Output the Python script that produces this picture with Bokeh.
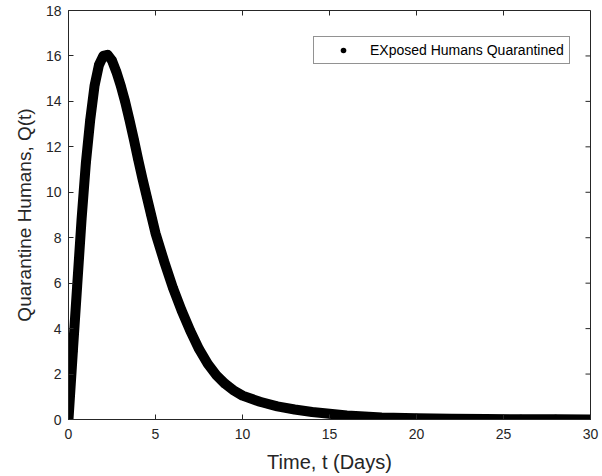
import math
from bokeh.plotting import figure
from bokeh.models import FixedTicker, Range1d, Legend, LegendItem, ColumnDataSource
from bokeh.embed import file_html
from bokeh.resources import INLINE

# Data
time_days = [0, 0.25, 0.5, 0.75, 1.0, 1.25, 1.5, 1.75, 2.0, 2.25, 2.5, 2.75, 3.0,
             3.25, 3.5, 3.75, 4.0, 4.25, 4.5, 4.75, 5.0, 5.5, 6.0, 6.5, 7.0, 7.5,
             8.0, 8.5, 9.0, 9.5, 10, 11, 12, 13, 14, 15, 16, 17, 18, 20, 22, 24,
             26, 28, 30]
quarantined = [0, 3.0, 5.9, 8.8, 11.3, 13.2, 14.7, 15.6, 16.0, 16.05, 15.8, 15.3, 14.7,
               14.0, 13.2, 12.35, 11.45, 10.6, 9.8, 9.0, 8.2, 6.95, 5.8, 4.8, 3.9, 3.1,
               2.45, 1.95, 1.57, 1.28, 1.05, 0.78, 0.58, 0.44, 0.33, 0.25, 0.18, 0.13,
               0.09, 0.05, 0.03, 0.02, 0.01, 0.01, 0.0]
x_ticks = [0, 5, 10, 15, 20, 25, 30]
y_ticks = [0, 2, 4, 6, 8, 10, 12, 14, 16, 18]
series_name = "EXposed Humans Quarantined"
x_title = "Time, t (Days)"
y_title = "Quarantine Humans, Q(t)"

AX = "#262626"
FONT = "Liberation Sans"
X_MIN, X_MAX = x_ticks[0], x_ticks[-1]
Y_MIN, Y_MAX = y_ticks[0], y_ticks[-1]

p = figure(width=602, height=476, output_backend="svg", toolbar_location=None,
           x_range=Range1d(X_MIN, X_MAX), y_range=Range1d(Y_MIN, Y_MAX),
           min_border_left=68, min_border_right=12, min_border_top=10, min_border_bottom=57)
p.background_fill_color = "white"
p.border_fill_color = "white"
p.outline_line_color = AX
p.outline_line_width = 1
p.xgrid.visible = False
p.ygrid.visible = False

src = ColumnDataSource(dict(t=time_days, q=quarantined))
p.line("t", "q", source=src, line_color="black", line_width=10,
       line_cap="round", line_join="round")
pts = p.scatter("t", "q", source=src, size=9, marker="circle",
                fill_color="black", line_color=None)

# inward ticks on the top and right sides of the box
p.ray(x=x_ticks, y=[Y_MAX] * len(x_ticks), length=5, length_units="screen",
      angle=-math.pi / 2, line_color=AX, line_width=1)
p.ray(x=[X_MAX] * len(y_ticks), y=y_ticks, length=5, length_units="screen",
      angle=math.pi, line_color=AX, line_width=1)

for ax in (p.xaxis[0], p.yaxis[0]):
    ax.axis_line_color = AX
    ax.major_tick_line_color = AX
    ax.major_tick_in = 5
    ax.major_tick_out = 0
    ax.minor_tick_line_color = None
    ax.major_label_text_font = FONT
    ax.major_label_text_font_size = "14px"
    ax.major_label_text_color = AX
    ax.axis_label_text_font = FONT
    ax.axis_label_text_font_style = "normal"
    ax.axis_label_text_color = AX

p.xaxis.ticker = FixedTicker(ticks=x_ticks)
p.yaxis.ticker = FixedTicker(ticks=y_ticks)
p.xaxis.axis_label = x_title
p.yaxis.axis_label = y_title
p.xaxis.axis_label_text_font_size = "20px"
p.yaxis.axis_label_text_font_size = "19px"
p.xaxis.major_label_standoff = 9
p.yaxis.major_label_standoff = 7
p.xaxis.axis_label_standoff = 9
p.yaxis.axis_label_standoff = 8

legend = Legend(items=[LegendItem(label=series_name, renderers=[pts])],
                location=(245, 355))
legend.label_text_font = FONT
legend.label_text_font_size = "14px"
legend.label_text_color = "black"
legend.border_line_color = AX
legend.border_line_width = 1
legend.padding = 5
legend.margin = 0
legend.glyph_width = 48
legend.glyph_height = 14
legend.label_standoff = 3
legend.label_height = 14
legend.background_fill_alpha = 1
p.add_layout(legend, "center")

open("out.html", "w").write(file_html(p, INLINE))
